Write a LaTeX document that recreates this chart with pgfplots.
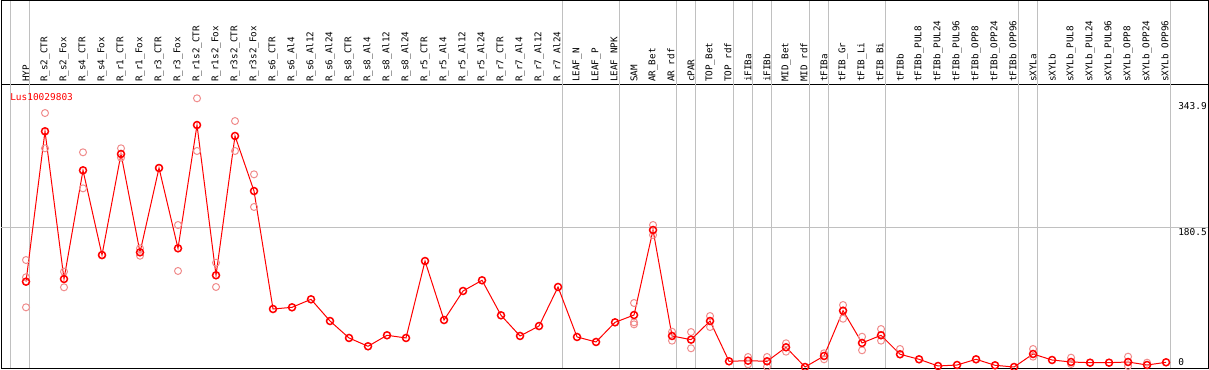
\documentclass[border=0pt]{standalone}
\usepackage{pgfplots}
\pgfplotsset{compat=1.18}
\usepackage{fontspec}
\setmainfont{DejaVu Sans Mono}
\setmonofont{DejaVu Sans Mono}
\definecolor{gridc}{RGB}{192,192,192}
\definecolor{repc}{RGB}{240,140,140}
\begin{document}
\begin{tikzpicture}
\useasboundingbox (0,0) rectangle (1209bp,370bp);
\begin{axis}[
  at={(1bp,2bp)}, anchor=south west,
  scale only axis, width=1207bp, height=283bp,
  xmin=-1.316, xmax=62.21, ymin=-1.3, ymax=366.2,
  clip=false,
  axis line style={black, line width=1bp},
  major tick length=0pt,
  /pgf/number format/assume math mode=true,
  xtick={0,...,60},
  xticklabel pos=upper,
  xticklabel shift=3bp,
  xticklabel style={rotate=90, anchor=west, inner sep=0pt, font=\fontsize{9.3}{10}\selectfont},
  xticklabels={HYP,R\_s2\_CTR,R\_s2\_Fox,R\_s4\_CTR,R\_s4\_Fox,R\_r1\_CTR,R\_r1\_Fox,R\_r3\_CTR,R\_r3\_Fox,R\_r1s2\_CTR,R\_r1s2\_Fox,R\_r3s2\_CTR,R\_r3s2\_Fox,R\_s6\_CTR,R\_s6\_Al4,R\_s6\_Al12,R\_s6\_Al24,R\_s8\_CTR,R\_s8\_Al4,R\_s8\_Al12,R\_s8\_Al24,R\_r5\_CTR,R\_r5\_Al4,R\_r5\_Al12,R\_r5\_Al24,R\_r7\_CTR,R\_r7\_Al4,R\_r7\_Al12,R\_r7\_Al24,LEAF\_N,LEAF\_P,LEAF\_NPK,SAM,AR\_Bet,AR\_rdf,cPAR,TOP\_Bet,TOP\_rdf,iFIBa,iFIBb,MID\_Bet,MID\_rdf,tFIBa,tFIB\_Gr,tFIB\_Li,tFIB\_Bi,tFIBb,tFIBb\_PUL8,tFIBb\_PUL24,tFIBb\_PUL96,tFIBb\_OPP8,tFIBb\_OPP24,tFIBb\_OPP96,sXYLa,sXYLb,sXYLb\_PUL8,sXYLb\_PUL24,sXYLb\_PUL96,sXYLb\_OPP8,sXYLb\_OPP24,sXYLb\_OPP96},
  ytick={180.5,343.9},
  yticklabels={180.5,343.9},
  yticklabel pos=right,
  yticklabel style={anchor=north west, inner sep=0pt, xshift=-30bp, font=\fontsize{9.5}{10}\selectfont},
  extra y ticks={0},
  extra y tick labels={0},
  extra y tick style={yticklabel style={yshift=9bp}},
]
\pgfplotsinvokeforeach{-0.84,0.21,28.21,31.21,34.21,35.21,37.21,38.21,39.21,41.21,42.21,45.21,52.21,53.21,60.21}{
  \draw[gridc, line width=1bp] (axis cs:#1,-1.3) -- (axis cs:#1,475.9);
}
\draw[gridc, line width=1bp] (axis cs:-1.316,180.5) -- (axis cs:62.21,180.5);
\draw[black, line width=1bp] (rel axis cs:0,1) -- (rel axis cs:0,1.2986) -- (rel axis cs:1,1.2986) -- (rel axis cs:1,1);

\addplot[only marks, mark=o, mark size=3.5bp, mark options={repc, line width=1bp}] coordinates {
(0,138.9)(0,116.5)(0,77.5)
(1,329.8)(1,284.0)
(2,123.8)(2,103.5)
(3,278.8)(3,232.0)
(4,145)
(5,284.0)(5,271.8)
(6,154.1)(6,144.5)
(7,258.4)
(8,184.4)(8,124.7)
(9,348.9)(9,280.5)
(10,135.4)(10,103.9)
(11,319.4)(11,280.5)
(12,250.2)(12,207.8)
(32,83.1)(32,58.0)(32,55.4)
(33,184.4)(33,171.4)
(34,45.8)(34,34.2)
(35,45.4)(35,24.3)
(36,66.2)(36,51.9)
(38,13.0)(38,3.5)
(39,13.0)(39,0.4)
(40,30.8)(40,19.9)
(42,17.8)(42,10.0)
(43,80.5)(43,62.7)
(44,39.3)(44,21.7)
(45,49.3)(45,34.2)
(46,23.4)
(53,23.4)(53,13.4)
(55,12.1)(55,3.9)
(58,13.4)(58,1.3)
(59,5.6)
};
\addplot[red, line width=1bp, mark=o, mark size=3.5bp, mark options={line width=1.5bp}] coordinates {
(0,110.8)(1,306.1)(2,114.3)(3,255.4)(4,145.4)(5,276.6)(6,148.9)(7,258.4)(8,154.1)(9,314.2)
(10,119.1)(11,300.0)(12,228.5)(13,75.3)(14,77.5)(15,87.9)(16,59.7)(17,37.7)(18,26.9)(19,41.2)
(20,37.7)(21,137.6)(22,61.0)(23,98.7)(24,112.6)(25,67.1)(26,40.3)(27,53.2)(28,103.9)(29,39.0)
(30,32.5)(31,58.0)(32,67.5)(33,177.9)(34,40.3)(35,35.5)(36,59.7)(37,7.4)(38,8.2)(39,7.4)
(40,25.6)(41,0.0)(42,14.3)(43,73.1)(44,31.2)(45,41.2)(46,16.5)(47,10.0)(48,1.3)(49,2.6)
(50,10.0)(51,2.2)(52,0.0)(53,16.9)(54,9.1)(55,6.5)(56,5.6)(57,5.6)(58,6.5)(59,2.6)
(60,6.1)
};
\node[anchor=north west, inner sep=0pt, text=red, font=\fontsize{9.5}{10}\selectfont] at (axis description cs:0.0075,0.972) {Lus10029803};
\end{axis}
\end{tikzpicture}
\end{document}
